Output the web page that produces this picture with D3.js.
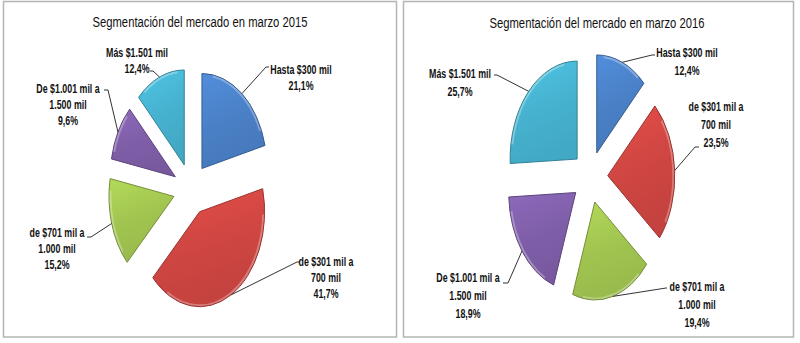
<!DOCTYPE html>
<html><head><meta charset="utf-8">
<script src="https://cdn.jsdelivr.net/npm/d3@7"></script>
<style>body{margin:0;background:#fff}svg{display:block}</style>
</head><body>
<svg id="c" width="800" height="343"></svg>
<script>
// ---- data ----
const categories = ["Hasta $300 mil", "de $301 mil a 700 mil", "de $701 mil a 1.000 mil", "De $1.001 mil a 1.500 mil", "Más $1.501 mil"];
const labelLines = [["Hasta $300 mil"], ["de $301 mil a", "700 mil"], ["de $701 mil a", "1.000 mil"], ["De $1.001 mil a", "1.500 mil"], ["Más $1.501 mil"]];
const values2015 = [21.1, 41.7, 15.2, 9.6, 12.4];
const values2016 = [12.4, 23.5, 19.4, 18.9, 25.7];
const titles = ["Segmentación del mercado en marzo 2015", "Segmentación del mercado en marzo 2016"];
const colors = ["#4a80c6", "#cf4642", "#a1c450", "#7f5ea8", "#46b2cf"];

// ---- layout ----
const panels = [
  { values: values2015, title: titles[0], box: [3.5, 1.5, 393, 335.5], titlePos: [200, 27],
    cx: 191, cy: 189, ry: 95, sx: 0.684, ex: 26, lh: 16.5,
    labels: [
      { x: 301, y: 69, elbow: [266, 67], end: [269, 67] },
      { x: 326, y: 261, elbow: [297, 262], end: [300, 262] },
      { x: 57, y: 232, elbow: [91, 237], end: [87, 237] },
      { x: 68, y: 88, elbow: [108, 90], end: [104, 90] },
      { x: 137, y: 52, elbow: [153, 71], end: [150, 71] }
    ] },
  { values: values2016, title: titles[1], box: [403.5, 1.5, 390, 335.5], titlePos: [597, 28],
    cx: 590, cy: 177, ry: 98, sx: 0.684, ex: 26, lh: 18.5,
    labels: [
      { x: 687, y: 52, elbow: [652, 55], end: [655, 55] },
      { x: 716, y: 106, elbow: [695, 147], end: [699, 147] },
      { x: 697, y: 286, elbow: [666, 288], end: [667, 288] },
      { x: 468, y: 277, elbow: [508, 283], end: [503, 283] },
      { x: 460, y: 73, elbow: [497, 75], end: [494, 75] }
    ] }
];

const svg = d3.select("#c");
const defs = svg.append("defs");
const fmt = v => d3.format(".1f")(v).replace(".", ",") + "%";
const pie = d3.pie().sort(null).value(d => d);

panels.forEach((p, pi) => {
  svg.append("rect").attr("x", p.box[0]).attr("y", p.box[1]).attr("width", p.box[2]).attr("height", p.box[3])
    .attr("fill", "#fff").attr("stroke", "#b4b4b4").attr("stroke-width", 1.5);

  svg.append("text").attr("transform", `translate(${p.titlePos[0]},${p.titlePos[1]}) scale(0.75,1)`)
    .attr("text-anchor", "middle").attr("font-family", "Liberation Sans, Arial, sans-serif")
    .attr("font-size", 15).attr("fill", "#111").text(p.title);

  const arcs = pie(p.values);
  const arc = d3.arc().innerRadius(0).outerRadius(p.ry);
  const g = svg.append("g").attr("transform", `translate(${p.cx},${p.cy}) scale(${p.sx},1)`);

  arcs.forEach((a, i) => {
    const mid = (a.startAngle + a.endAngle) / 2;
    const ox = p.ex * Math.sin(mid), oy = -p.ex * Math.cos(mid);
    const base = d3.color(colors[i]);
    const gid = `g${pi}_${i}`, cid = `c${pi}_${i}`;
    const grad = defs.append("linearGradient").attr("id", gid).attr("x1", 0).attr("y1", 0).attr("x2", 0.3).attr("y2", 1);
    grad.append("stop").attr("offset", "0%").attr("stop-color", base.brighter(0.3));
    grad.append("stop").attr("offset", "55%").attr("stop-color", base);
    grad.append("stop").attr("offset", "100%").attr("stop-color", base.darker(0.15));
    const d = arc(a);
    defs.append("clipPath").attr("id", cid).append("path").attr("d", d).attr("transform", `translate(${ox},${oy})`);
    const sg = g.append("g");
    sg.append("path").attr("d", d).attr("transform", `translate(${ox},${oy})`)
      .attr("fill", `url(#${gid})`);
    sg.append("path").attr("d", d).attr("transform", `translate(${ox},${oy})`)
      .attr("fill", "none").attr("stroke", "#fff").attr("stroke-opacity", 0.3)
      .attr("stroke-width", 5).attr("vector-effect", "non-scaling-stroke")
      .attr("clip-path", `url(#${cid})`);
    sg.append("path").attr("d", d).attr("transform", `translate(${ox},${oy})`)
      .attr("fill", "none").attr("stroke", base.darker(0.9)).attr("stroke-width", 1)
      .attr("vector-effect", "non-scaling-stroke");

    // leader line from arc mid-point to label
    const L = p.labels[i];
    const sxp = p.cx + p.sx * (ox + p.ry * Math.sin(mid));
    const syp = p.cy + oy - p.ry * Math.cos(mid);
    svg.append("path").attr("d", d3.line()([[sxp, syp], L.elbow, L.end]))
      .attr("fill", "none").attr("stroke", "#333").attr("stroke-width", 1);

    const lines = labelLines[i].concat([fmt(p.values[i])]);
    const t = svg.append("text").attr("transform", `translate(${L.x},${L.y + 4.5}) scale(0.68,1)`)
      .attr("text-anchor", "middle").attr("font-family", "Liberation Sans, Arial, sans-serif")
      .attr("font-size", 13).attr("font-weight", "bold").attr("fill", "#111");
    lines.forEach((s, k) => t.append("tspan").attr("x", 0).attr("y", k * p.lh).text(s));
  });
});
</script>
</body></html>
